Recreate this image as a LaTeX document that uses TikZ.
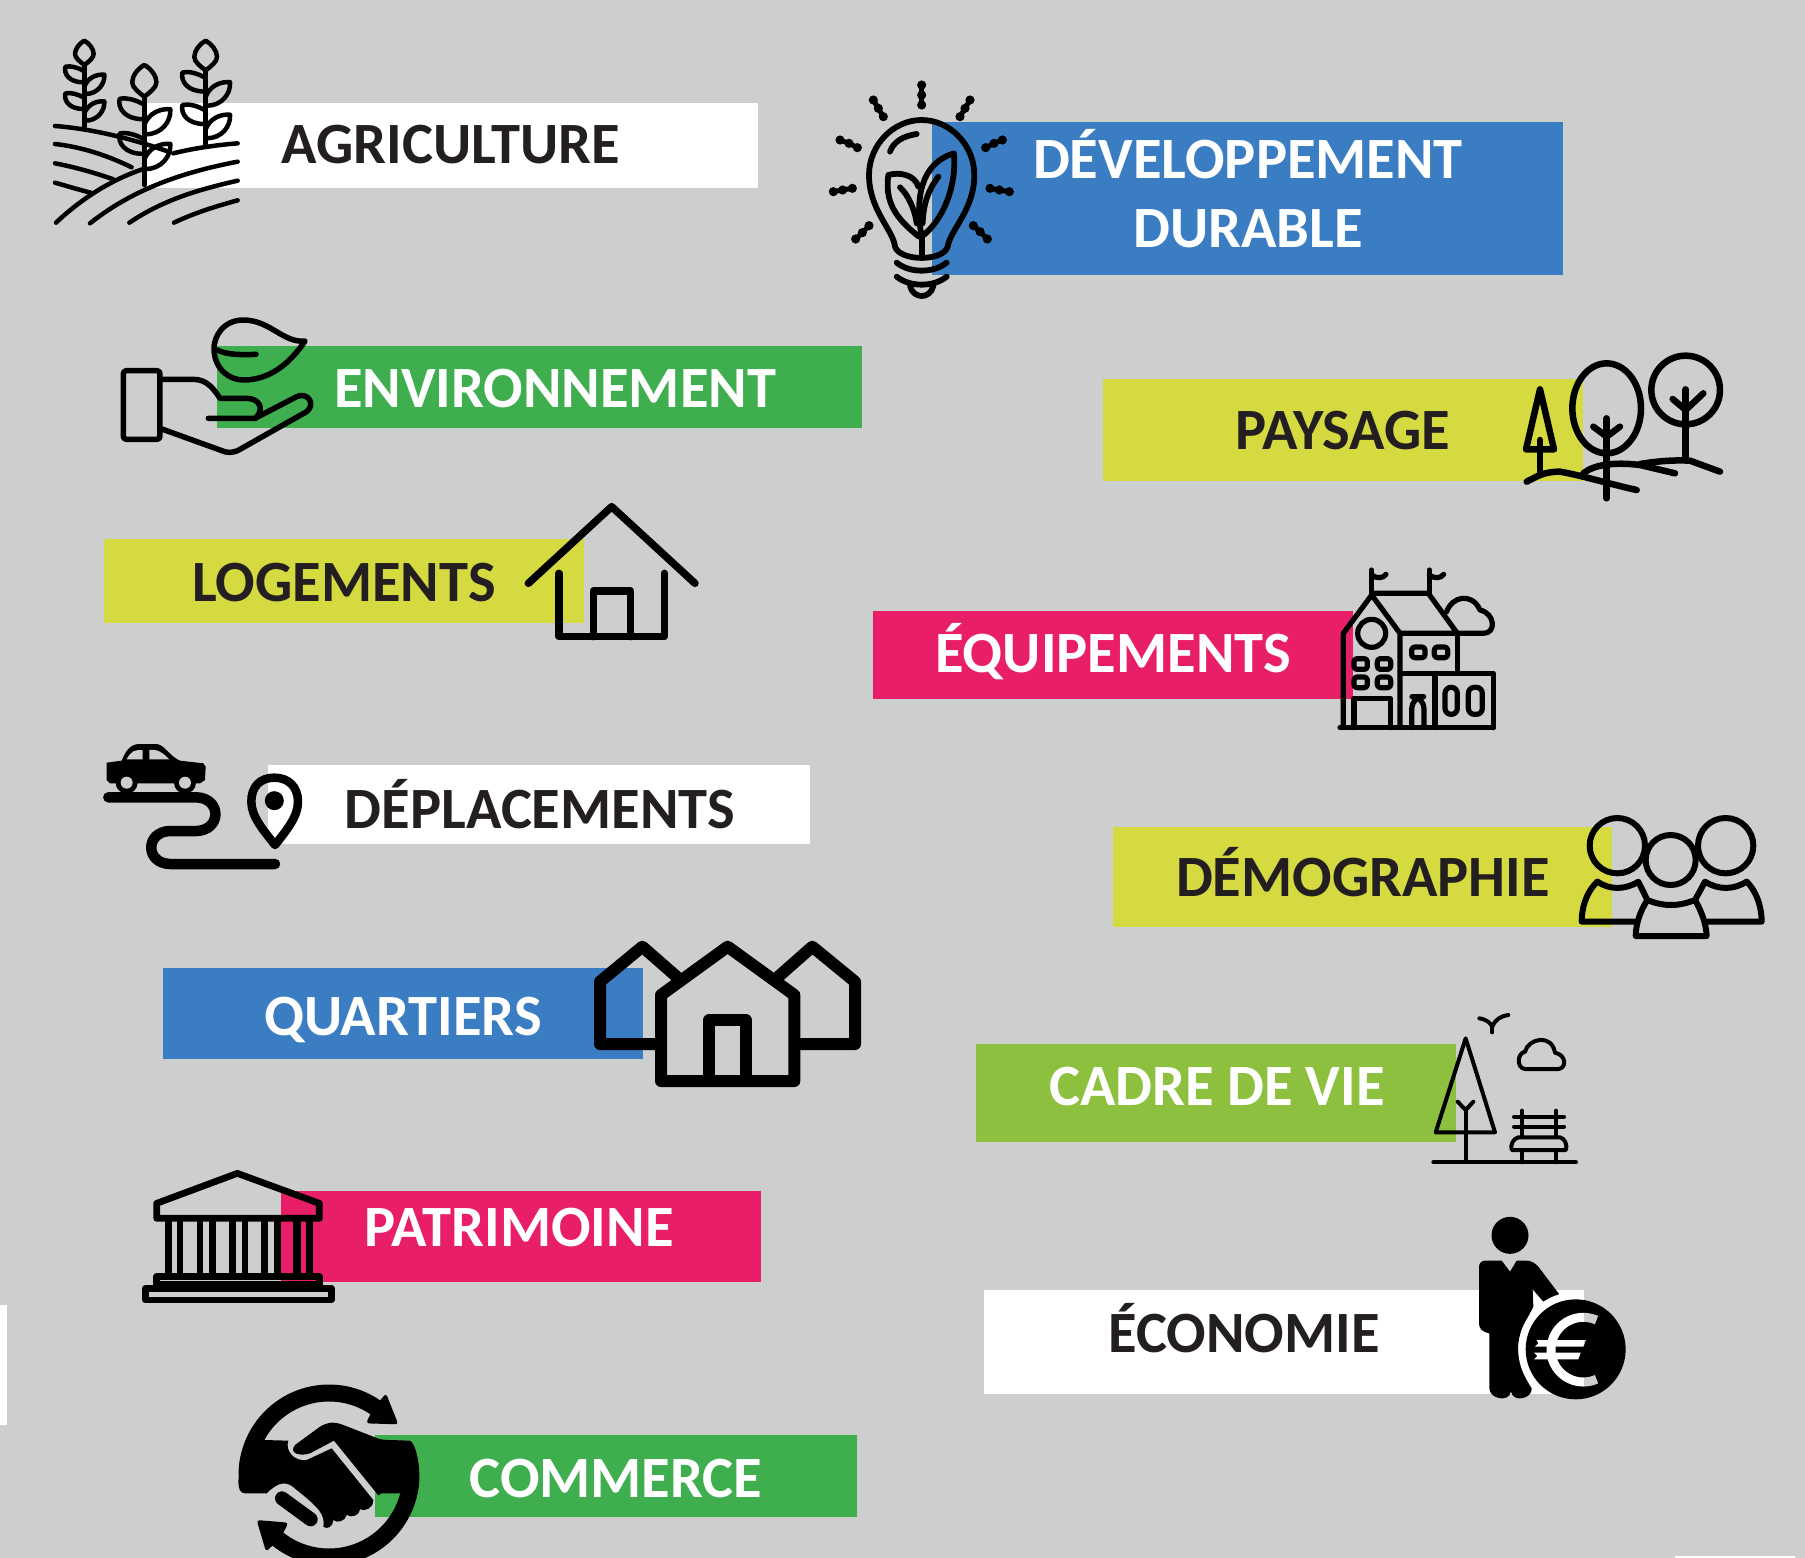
\documentclass[tikz,border=0pt]{standalone}
\usepackage{fontspec}
\setmainfont{Carlito}
\definecolor{bgc}{RGB}{205,207,206}
\definecolor{blu}{RGB}{58,125,194}
\definecolor{grn}{RGB}{63,174,79}
\definecolor{yel}{RGB}{214,218,65}
\definecolor{pnk}{RGB}{233,30,104}
\definecolor{lim}{RGB}{141,192,63}
\definecolor{ink}{RGB}{35,31,32}
\tikzset{
  z/.style 2 args={shift={(#1,#2)},x=0.33333pt,y=-0.33333pt},
  ic/.style={draw=black,line join=round,line cap=round,line width=#1},
  ic/.default=4.5pt,
  lab/.style={anchor=base,inner sep=0pt,font=\fontsize{58.5}{70}\selectfont\bfseries},
  labd/.style={lab,text=ink},
  labw/.style={lab,text=white}
}
\newcommand{\wheat}[4]{%
  \begin{scope}[shift={(#1,#2)},scale=#3]
    \draw[ic] (0,0) .. controls (15,8) and (28,25) .. (28,40) .. controls (28,52) and (12,64) .. (0,73) .. controls (-12,64) and (-28,52) .. (-28,40) .. controls (-28,25) and (-15,8) .. cycle;
    \draw[ic] (0,73) -- (0,#4);
    \foreach \d in {0,80}{
      \draw[ic] (0,\d+92) .. controls (-20,\d+80) and (-40,\d+75) .. (-57,\d+78) .. controls (-62,\d+100) and (-45,\d+125) .. (-3,\d+125);
      \draw[ic] (0,\d+138) .. controls (10,\d+112) and (35,\d+100) .. (60,\d+102) .. controls (62,\d+130) and (40,\d+160) .. (3,\d+160);
    }
  \end{scope}}
\newcommand{\euroshape}[1]{%
  \draw[#1,line width=9pt,line cap=butt] plot[domain=66:294,samples=50] ({520+97*cos(\x)},{1049-97*sin(\x)});
  \fill[#1] (380,1020) -- (528,1020) -- (520,1040) -- (375,1040) -- (385,1030) -- cycle;
  \fill[#1] (372,1058) -- (512,1058) -- (505,1078) -- (372,1078) -- (382,1068) -- cycle;}
\begin{document}
\begin{tikzpicture}[x=1pt,y=-1pt]
\useasboundingbox (0,0) rectangle (1805,1558);
\clip (0,0) rectangle (1805,1558);
\fill[bgc] (0,0) rectangle (1805,1558);
% stray white slivers at the edges
\fill[white] (0,1305) rectangle (7,1425);
\fill[white] (1675,1556) rectangle (1795,1558);
% bands
\fill[white] (147,103) rectangle (758,188);
\fill[grn] (217,346) rectangle (862,428);
\fill[blu] (932,122) rectangle (1563,275);
\fill[yel] (1103,379) rectangle (1583,481);
\fill[yel] (104,539) rectangle (584,623);
\fill[pnk] (873,611) rectangle (1353,699);
\fill[white] (268,765) rectangle (810,844);
\fill[yel] (1113,827) rectangle (1612,927);
\fill[blu] (163,968) rectangle (643,1059);
\fill[lim] (976,1044) rectangle (1456,1142);
\fill[pnk] (281,1191) rectangle (761,1282);
\fill[white] (984,1290) rectangle (1584,1394);
\fill[grn] (375,1435) rectangle (857,1517);
% ---------- agriculture + hand
\begin{scope}[z={30}{20}]
  \wheat{163}{62}{1}{258}
  \wheat{527}{62}{1.22}{256}
  \wheat{343}{135}{1.3}{277}
  \draw[ic] (75,318) .. controls (170,325) and (290,350) .. (418,396);
  \draw[ic] (75,372) .. controls (150,380) and (230,405) .. (305,442);
  \draw[ic] (75,430) .. controls (130,440) and (200,460) .. (250,478);
  \draw[ic] (75,488) .. controls (110,498) and (150,510) .. (182,518);
  \draw[ic] (78,608) .. controls (150,540) and (240,480) .. (340,447);
  \draw[ic] (430,400) .. controls (490,385) and (560,375) .. (623,370);
  \draw[ic] (180,610) .. controls (300,515) and (440,460) .. (623,425);
  \draw[ic] (298,608) .. controls (400,540) and (500,510) .. (623,482);
  \draw[ic] (432,608) .. controls (490,580) and (560,558) .. (623,541);
  \draw[ic=5.5pt,rounded corners=3pt] (280,1052) rectangle (390,1258);
  \draw[ic=5.5pt] (825,963) .. controls (760,970) and (720,900) .. (640,900) .. controls (580,900) and (550,950) .. (552,990) .. controls (555,1050) and (600,1080) .. (640,1080) .. controls (720,1080) and (780,1030) .. (825,963) -- cycle;
  \draw[ic=5.5pt] (562,990) .. controls (590,1005) and (640,1005) .. (678,1003);
  \draw[ic=5.5pt] (390,1078) -- (490,1078) .. controls (530,1078) and (550,1105) .. (570,1135) -- (650,1135) .. controls (690,1135) and (705,1170) .. (675,1195) -- (535,1195);
  \draw[ic=5.5pt] (675,1195) -- (800,1130) .. controls (830,1115) and (860,1150) .. (830,1175) -- (630,1288) .. controls (610,1300) and (590,1300) .. (570,1290) -- (390,1225);
\end{scope}
% ---------- bulb
\begin{scope}[z={800}{60}]
  \draw[ic=5.8pt] (285,560) .. controls (280,510) and (207,450) .. (207,345) .. controls (207,255) and (280,180) .. (365,180) .. controls (450,180) and (523,255) .. (523,345) .. controls (523,450) and (450,510) .. (443,560) .. controls (430,605) and (300,605) .. (285,560) -- cycle;
  \draw[ic=5.8pt] (270,275) .. controls (280,245) and (310,228) .. (350,222);
  \draw[ic=5.8pt] (290,608) .. controls (330,640) and (400,640) .. (440,608);
  \draw[ic=5.8pt] (290,650) .. controls (330,682) and (400,682) .. (440,650);
  \draw[ic=5.8pt] (330,678) .. controls (340,718) and (390,718) .. (400,678);
  \draw[ic=5.8pt] (365,590) -- (365,525);
  \draw[ic=5.8pt] (357,530) .. controls (280,470) and (255,420) .. (265,345) .. controls (300,335) and (345,345) .. (355,380);
  \draw[ic=5.8pt] (365,530) .. controls (345,420) and (360,310) .. (462,280) .. controls (470,380) and (430,480) .. (365,530) -- cycle;
  \draw[ic=5.8pt] (368,490) .. controls (370,430) and (385,390) .. (415,350);
  \draw[ic=5.8pt] (300,382) .. controls (325,405) and (345,450) .. (350,490);
  \foreach \a/\b/\c/\d/\e/\f in {365/75/365/105/365/135,220/120/235/145/250/170,510/120/495/145/480/170,120/240/147/250/172/263,607/240/582/250/557/263,100/395/128/390/157/385,570/385/598/390/628/395,167/537/187/518/207/497,562/537/540/515/520/497}{
    \fill[black] (\a,\b) circle (4.6pt) (\c,\d) circle (4.6pt) (\e,\f) circle (4.6pt);
    \draw[ic=5pt] (\a,\b) -- (\c,\d) -- (\e,\f);}
\end{scope}
% ---------- trees
\begin{scope}[z={1480}{330}]
  \draw[ic=6.5pt] (180,178) -- (222,358) -- (138,358) -- cycle;
  \draw[ic=6.5pt] (180,330) -- (180,425);
  \draw[ic=6.5pt] (140,455) .. controls (170,440) and (190,425) .. (240,425) .. controls (300,435) and (400,465) .. (470,480);
  \draw[ic=6.5pt] (380,235) ellipse [x radius=103,y radius=135];
  \draw[ic=6.5pt] (380,265) -- (380,505);
  \draw[ic=6.5pt] (340,290) -- (380,320) -- (420,290);
  \draw[ic=6.5pt] (617,180) circle [radius=103];
  \draw[ic=6.5pt] (617,178) -- (617,390);
  \draw[ic=6.5pt] (578,207) -- (617,240) -- (670,190);
  \draw[ic=6.5pt] (310,430) .. controls (340,405) and (400,395) .. (480,405) -- (585,430);
  \draw[ic=6.5pt] (480,402) .. controls (540,392) and (590,390) .. (630,392) -- (720,425);
\end{scope}
% ---------- house
\begin{scope}[z={510}{490}]
  \draw[ic=7.5pt] (55,280) -- (305,50) -- (555,280);
  \draw[ic=7.5pt] (147,250) -- (147,440) -- (463,440) -- (463,250);
  \draw[ic=7.5pt] (250,440) -- (250,303) -- (362,303) -- (362,440);
\end{scope}
% ---------- town hall
\begin{scope}[z={1320}{555}]
  \draw[ic=5.2pt] (60,518) -- (520,518);
  \draw[ic=5.2pt] (70,518) -- (70,235) -- (155,120) -- (240,235) -- (240,518);
  \draw[ic=5.2pt] (155,115) -- (325,115) -- (412,235) -- (240,235);
  \draw[ic=5.2pt] (155,45) -- (155,120);
  \draw[ic=5.2pt] (155,60) .. controls (170,72) and (190,70) .. (198,58);
  \draw[ic=5.2pt] (328,45) -- (328,115);
  \draw[ic=5.2pt] (328,60) .. controls (343,72) and (363,70) .. (371,58);
  \draw[ic=5.2pt] (155,235) circle [radius=42];
  \foreach \a/\b in {102/311,172/311,102/366,172/366,275/276,343/276}
    \draw[ic=5.2pt,rounded corners=3pt] (\a,\b) rectangle +(40,32);
  \draw[ic=5.2pt] (102,518) -- (102,430) -- (212,430) -- (212,518);
  \draw[ic=5.2pt] (412,235) -- (412,355);
  \draw[ic=5.2pt] (245,355) -- (520,355) -- (520,518);
  \draw[ic=5.2pt] (345,355) -- (345,518);
  \draw[ic=5.2pt,rounded corners=12pt] (275,518) -- (275,425) -- (312,425) -- (312,518);
  \draw[ic=5.2pt,rounded corners=6pt] (375,397) rectangle (412,478);
  \draw[ic=5.2pt,rounded corners=6pt] (445,397) rectangle (487,478);
  \draw[ic=5.2pt] (380,170) .. controls (395,125) and (455,110) .. (480,165) .. controls (525,175) and (530,235) .. (490,235) -- (412,235);
\end{scope}
% ---------- car and road
\begin{scope}[z={90}{730}]
  \fill[black] (50,98) -- (95,92) .. controls (110,55) and (125,42) .. (150,42) -- (200,42) .. controls (225,45) and (240,80) .. (270,92) -- (340,100) -- (347,110) -- (345,150) -- (330,160) -- (60,160) -- (50,150) -- cycle;
  \fill[bgc] (110,88) .. controls (125,60) and (135,60) .. (158,60) -- (158,88) -- cycle;
  \fill[bgc] (178,60) .. controls (205,55) and (225,75) .. (238,88) -- (178,88) -- cycle;
  \foreach \a in {110,285}{
    \fill[black] (\a,158) circle (11pt);
    \fill[bgc] (\a,158) circle (6pt);}
  \draw[ic=10.5pt] (55,202) -- (320,202) .. controls (395,205) and (395,300) .. (320,303) -- (240,303) .. controls (165,305) and (165,400) .. (240,402) -- (555,402);
  \draw[ic=8.5pt] (555,345) .. controls (520,300) and (484,260) .. (484,215) .. controls (484,170) and (510,143) .. (553,143) .. controls (595,143) and (624,170) .. (624,215) .. controls (624,260) and (590,300) .. (555,345) -- cycle;
  \fill[black] (553,212) circle (9.5pt);
\end{scope}
% ---------- people
\begin{scope}[z={1560}{800}]
  \draw[ic=6pt] (172,137) circle [radius=83];
  \draw[ic=6pt] (497,137) circle [radius=83];
  \draw[ic=6pt] (332,180) circle [radius=75];
  \draw[ic=6pt] (112,245) .. controls (150,270) and (195,270) .. (235,245) -- (262,300) .. controls (310,320) and (355,320) .. (405,300) -- (435,245) .. controls (475,270) and (520,270) .. (560,245);
  \draw[ic=6pt] (112,245) .. controls (75,280) and (65,330) .. (65,365) -- (225,365);
  \draw[ic=6pt] (560,245) .. controls (595,280) and (605,330) .. (605,365) -- (440,365);
  \draw[ic=6pt] (262,300) .. controls (240,335) and (228,370) .. (227,408) -- (440,408) .. controls (438,370) and (425,335) .. (405,300);
\end{scope}
% ---------- neighbourhood
\begin{scope}[z={580}{930}]
  \draw[ic=12pt] (225,342) -- (60,342) -- (60,155) -- (187,50) -- (290,140);
  \draw[ic=12pt] (595,140) -- (697,50) -- (825,155) -- (825,342) -- (660,342);
  \draw[ic=12pt] (243,453) -- (243,195) -- (443,50) -- (643,195) -- (643,453) -- cycle;
  \draw[ic=12pt] (388,453) -- (388,270) -- (497,270) -- (497,453);
\end{scope}
% ---------- park
\begin{scope}[z={1410}{1000}]
  \draw[ic=4pt] (167,115) -- (255,397) -- (77,397) -- cycle;
  \draw[ic=4pt] (167,330) -- (167,485);
  \draw[ic=4pt] (143,305) -- (167,330) -- (190,305);
  \draw[ic=4pt] (70,487) -- (498,487);
  \draw[ic=4pt] (312,350) -- (462,350);
  \draw[ic=4pt] (312,380) -- (462,380);
  \draw[ic=4pt] (335,332) -- (335,410);
  \draw[ic=4pt] (437,332) -- (437,410);
  \draw[ic=4pt] (325,412) -- (450,412) .. controls (465,415) and (472,435) .. (468,450) -- (305,450) .. controls (300,435) and (310,415) .. (325,412) -- cycle;
  \draw[ic=4pt] (335,450) -- (335,487);
  \draw[ic=4pt] (437,450) -- (437,487);
  \draw[ic=4pt] (345,207) .. controls (320,205) and (320,160) .. (345,155) .. controls (355,115) and (425,100) .. (435,158) .. controls (470,165) and (470,205) .. (445,207) -- cycle;
  \draw[ic=4pt] (208,55) .. controls (230,58) and (242,70) .. (247,80) .. controls (255,58) and (275,47) .. (295,45);
  \draw[ic=4pt] (247,97) -- (247,80);
% ---------- man with euro coin
  \fill[black] (300,706) circle (18.5pt);
  \fill[black] (225,782) -- (275,782) -- (300,815) -- (320,782) -- (350,782) .. controls (365,782) and (375,790) .. (385,800) -- (447,882) -- (400,905) -- (368,868) -- (370,920) .. controls (350,960) and (325,1000) .. (325,1040) .. controls (325,1090) and (345,1135) .. (365,1165) .. controls (368,1195) and (310,1210) .. (303,1175) .. controls (295,1210) and (238,1195) .. (238,1165) -- (238,1000) .. controls (215,995) and (207,985) .. (207,970) -- (207,800) .. controls (207,790) and (215,782) .. (225,782) -- cycle;
  \draw[white,line width=7.5pt] plot[domain=110:226,samples=40] ({497+161*cos(\x)},{1048-161*sin(\x)});
  \fill[black] (497,1048) circle (50pt);
  \begin{scope}
    \clip (300,900) rectangle (522,1200);
    \euroshape{white}
  \end{scope}
  \begin{scope}
    \clip (522,900) rectangle (660,1200);
    \euroshape{bgc}
  \end{scope}
\end{scope}
% ---------- temple and handshake
\begin{scope}[z={130}{1150}]
  \draw[ic=6.7pt] (80,205) -- (80,160) -- (322,70) -- (568,160) -- (568,205) -- cycle;
  \foreach \a/\b in {105/125,140/160,200/220,238/258,298/318,335/355,393/415,432/452,490/512,528/548}
    \fill[black] (\a,205) rectangle (\b,375);
  \draw[ic=6.7pt] (80,379) rectangle (568,403);
  \draw[ic=6.7pt] (46,415) rectangle (604,450);
  % ring arrows
  \draw[black,line width=17pt] plot[domain=180:50,samples=50] ({597+246*cos(\x)},{975-246*sin(\x)});
  \fill[black,rounded corners=3pt] (768,730) -- (805,823) -- (708,820) -- (720,795) -- (735,770) -- cycle;
  \draw[black,line width=17pt] plot[domain=0:-132,samples=50] ({597+246*cos(\x)},{975-246*sin(\x)});
  \fill[black,rounded corners=3pt] (380,1110) -- (475,1118) -- (462,1145) -- (440,1175) -- (408,1205) -- cycle;
  % hands
  \fill[black] (403,870) -- (475,872) .. controls (465,900) and (490,935) .. (530,930) -- (605,895) -- (730,1050) .. controls (730,1075) and (705,1085) .. (690,1078) .. controls (690,1095) and (665,1105) .. (650,1095) .. controls (645,1115) and (620,1120) .. (610,1110) .. controls (610,1130) and (590,1140) .. (580,1130) .. controls (585,1095) and (570,1075) .. (500,1020) .. controls (470,990) and (445,995) .. (410,1030) -- (345,1030) .. controls (330,1030) and (325,1015) .. (325,995) -- (330,930) -- cycle;
  \fill[black] (495,885) -- (570,830) .. controls (595,815) and (615,815) .. (640,825) -- (730,860) .. controls (745,868) and (760,870) .. (780,870) -- (840,872) .. controls (855,880) and (868,930) .. (868,975) -- (808,1030) -- (755,1030) -- (745,1036) -- (612,872) -- (540,910) .. controls (510,920) and (475,910) .. (495,885) -- cycle;
  \draw[black,line width=14pt,line cap=round] (456,1045) -- (542,1108);
\end{scope}
% ---------- labels
\node[labd] (agri) at (451,163) {AGRICULTURE};
\node[labw] (envi) at (555,407) {ENVIRONNEMENT};
\node[labw] (deva) at (1248,178) {DÉVELOPPEMENT};
\node[labw] (devb) at (1248,247) {DURABLE};
\node[labd] (pays) at (1343,449) {PAYSAGE};
\node[labd] (loge) at (344,601) {LOGEMENTS};
\node[labw] (equi) at (1113,672) {ÉQUIPEMENTS};
\node[labd] (depl) at (540,828) {DÉPLACEMENTS};
\node[labd] (demo) at (1363,896) {DÉMOGRAPHIE};
\node[labw] (quar) at (403,1035) {QUARTIERS};
\node[labw] (cadr) at (1217,1105) {CADRE DE VIE};
\node[labw] (patr) at (519,1246) {PATRIMOINE};
\node[labd] (econ) at (1244,1352) {ÉCONOMIE};
\node[labw] (comm) at (616,1497) {COMMERCE};
\end{tikzpicture}
\end{document}
